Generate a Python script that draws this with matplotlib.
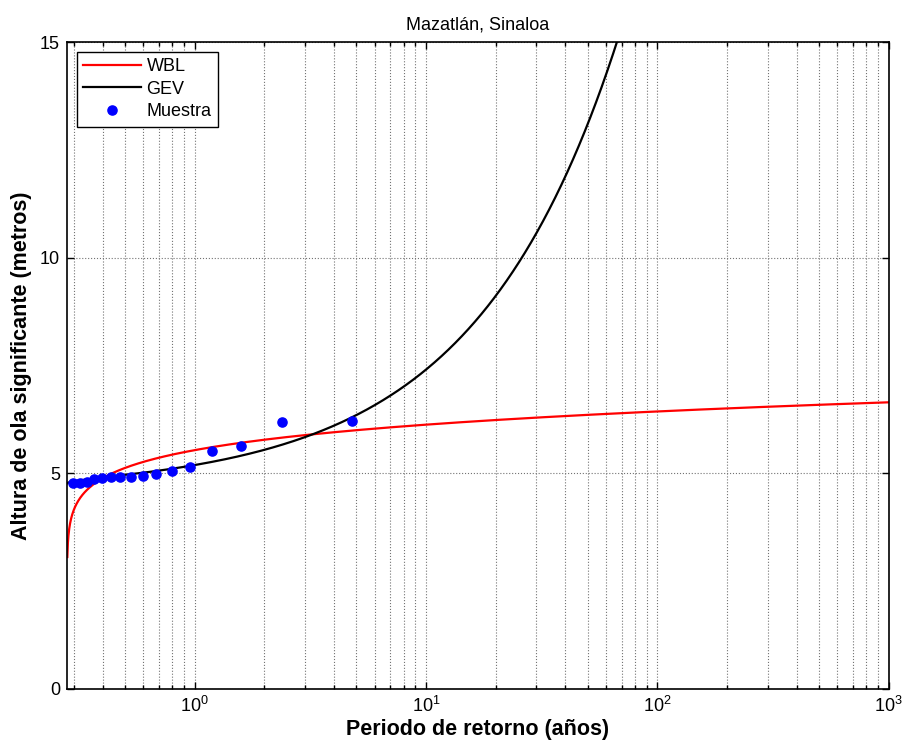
import numpy as np
import matplotlib
matplotlib.use("Agg")
import matplotlib.pyplot as plt
from matplotlib.ticker import LogLocator, FixedLocator, NullLocator, NullFormatter

plt.rcParams["font.family"] = ["Liberation Sans", "DejaVu Sans"]
plt.rcParams["mathtext.fontset"] = "custom"
plt.rcParams["mathtext.rm"] = "Liberation Sans"
plt.rcParams["mathtext.it"] = "Liberation Sans:italic"
plt.rcParams["mathtext.bf"] = "Liberation Sans:bold"

# Muestra: periodo de retorno (años) y altura de ola significante (m)
t_muestra = [4.77, 2.385, 1.59, 1.1925, 0.954, 0.795, 0.681, 0.596,
             0.530, 0.477, 0.434, 0.3975, 0.367, 0.341, 0.318, 0.298]
h_muestra = [6.21, 6.19, 5.64, 5.53, 5.15, 5.05, 4.98, 4.93,
             4.92, 4.92, 4.92, 4.90, 4.86, 4.81, 4.77, 4.77]

# Tasa de eventos por año
eventos_por_anio = 3.56

# Parámetros ajustados
wbl_escala, wbl_forma = 5.41, 10.2
gev_forma, gev_escala, gev_loc = 0.70, 0.1566, 4.93

t_min = 1.0 / eventos_por_anio
t_max = 1000.0

# Niveles de retorno de cada distribución
T = np.logspace(np.log10(t_min * 1.003), np.log10(t_max), 3000)
F = 1.0 - 1.0 / (eventos_por_anio * T)
h_wbl = wbl_escala * (-np.log(1.0 - F)) ** (1.0 / wbl_forma)
h_gev = gev_loc + gev_escala / gev_forma * ((-np.log(F)) ** (-gev_forma) - 1.0)

fig = plt.figure(figsize=(9.06, 7.52), dpi=100)
ax = fig.add_axes([0.074, 0.0838, 0.907, 0.8602])

ax.semilogx(T, h_wbl, color="#ff0000", lw=1.6, label="WBL")
ax.semilogx(T, h_gev, color="black", lw=1.6, label="GEV")
ax.plot(t_muestra, h_muestra, "o", color="#0000ff", ms=6.6, mec="#0000ff",
        label="Muestra")

ax.set_xlim(t_min, t_max)
ax.set_ylim(0, 15)

ax.xaxis.set_major_locator(LogLocator(base=10, numticks=10))
ax.xaxis.set_minor_locator(LogLocator(base=10, subs=np.arange(2, 10), numticks=20))
ax.xaxis.set_minor_formatter(NullFormatter())
ax.yaxis.set_major_locator(FixedLocator([0, 5, 10, 15]))
ax.yaxis.set_minor_locator(NullLocator())

ax.grid(True, which="both", axis="x", linestyle=":", color="0.45", lw=0.8)
ax.grid(True, which="major", axis="y", linestyle=":", color="0.45", lw=0.8)

ax.tick_params(which="both", direction="in", top=True, right=True,
               labelsize=13, width=1.0)
ax.tick_params(which="major", length=5, pad=5)
ax.tick_params(which="minor", length=3)
for s in ax.spines.values():
    s.set_linewidth(1.2)

ax.set_title("Mazatlán, Sinaloa", fontsize=13, pad=9)
ax.set_xlabel("Periodo de retorno (años)", fontsize=15.5, fontweight="bold",
              labelpad=2)
ax.set_ylabel("Altura de ola significante (metros)", fontsize=15.5,
              fontweight="bold", labelpad=6)

leg = ax.legend(loc="upper left", fontsize=13, numpoints=1, handlelength=3.2,
                fancybox=False, framealpha=1, edgecolor="black",
                borderaxespad=0.55, borderpad=0.35, labelspacing=0.3,
                handletextpad=0.3)
leg.get_frame().set_linewidth(1.0)

fig.savefig("out.png", dpi=100)
